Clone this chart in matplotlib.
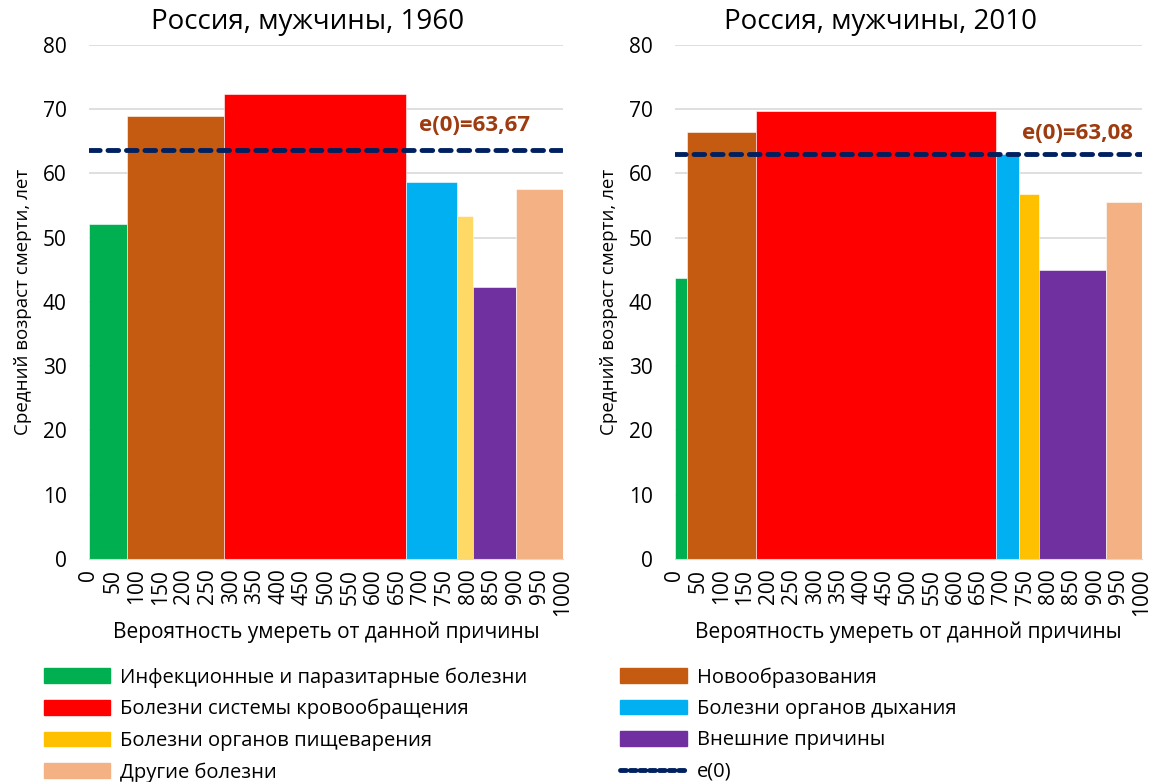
import matplotlib.pyplot as plt
from matplotlib.lines import Line2D
from matplotlib.patches import Patch
import numpy as np

plt.rcParams['font.family'] = ['Open Sans', 'DejaVu Sans']

# Causes of death and their colours
causes = ['Инфекционные и паразитарные болезни', 'Новообразования',
          'Болезни системы кровообращения', 'Болезни органов дыхания',
          'Болезни органов пищеварения', 'Внешние причины', 'Другие болезни']
colors = ['#00B050', '#C55A11', '#FF0000', '#00B0F0', '#FFC000', '#7030A0', '#F4B183']

# 1960: cumulative probability of dying (per 1000) and mean age at death
bounds_1960 = [0, 81, 284, 668, 776, 811, 901, 1000]
age_1960 = [52.2, 69.0, 72.3, 58.6, 53.4, 42.4, 57.6]
e0_1960 = 63.67

# 2010
bounds_2010 = [0, 25, 173, 687, 736, 780, 923, 1000]
age_2010 = [43.7, 66.4, 69.7, 63.0, 56.8, 44.9, 55.5]
e0_2010 = 63.08

fig = plt.figure(figsize=(11.57, 7.82), dpi=100)
ax1 = fig.add_axes([0.0769, 0.2852, 0.4097, 0.6573])
ax2 = fig.add_axes([0.5834, 0.2852, 0.4036, 0.6573])


def draw(ax, bounds, ages, e0, digest_color, label_xy):
    b = np.array(bounds)
    cols = list(colors)
    cols[4] = digest_color
    ax.bar(b[:-1], ages, width=np.diff(b), align='edge', color=cols,
           edgecolor='white', linewidth=0.4, zorder=2)
    ax.axhline(e0, color='#002060', lw=3.5, ls=(0, (2.2, 1.6)),
               dash_capstyle='round', zorder=3)
    ax.text(*label_xy, 'e(0)=' + f'{e0:.2f}'.replace('.', ','),
            color='#9E3B0F', fontsize=16, fontweight='bold',
            ha='right', va='center', zorder=4)
    ax.set_xlim(0, 1000)
    ax.set_ylim(0, 80)
    ax.set_yticks(np.arange(0, 81, 10))
    ax.set_xticks(np.arange(0, 1001, 50))
    ax.tick_params(axis='x', labelrotation=90, length=0, labelsize=15, pad=7)
    ax.tick_params(axis='y', length=0, labelsize=15, pad=16)
    ax.grid(axis='y', color='#D9D9D9', lw=1.2, zorder=0)
    for s in ['top', 'right', 'left']:
        ax.spines[s].set_visible(False)
    ax.spines['bottom'].set_color('#D9D9D9')
    ax.set_xlabel('Вероятность умереть от данной причины', fontsize=15, labelpad=4)
    ax.set_ylabel('Средний возраст смерти, лет', fontsize=13.5, labelpad=8)


draw(ax1, bounds_1960, age_1960, e0_1960, '#FFD966', (930, 67.4))
draw(ax2, bounds_2010, age_2010, e0_2010, '#FFC000', (981, 66.2))

fig.text(0.266, 0.972, 'Россия, мужчины, 1960', fontsize=20, ha='center', va='center')
fig.text(0.761, 0.972, 'Россия, мужчины, 2010', fontsize=20, ha='center', va='center')

# Legend in two columns, filled row by row
handles = [Patch(color=c) for c in colors]
handles.append(Line2D([], [], color='#002060', lw=3.5, ls=(0, (1.2, 0.8)),
                      dash_capstyle='round'))
labels = causes + ['e(0)']
order = [0, 2, 4, 6, 1, 3, 5, 7]
fig.legend([handles[i] for i in order], [labels[i] for i in order],
           ncol=2, loc='upper left', bbox_to_anchor=(0.024, 0.1676),
           frameon=False, fontsize=14.5, handlelength=3.3, handleheight=0.75,
           handletextpad=0.5, columnspacing=4.6, labelspacing=0.57,
           borderpad=0.3)

fig.savefig('out.png', dpi=100)
